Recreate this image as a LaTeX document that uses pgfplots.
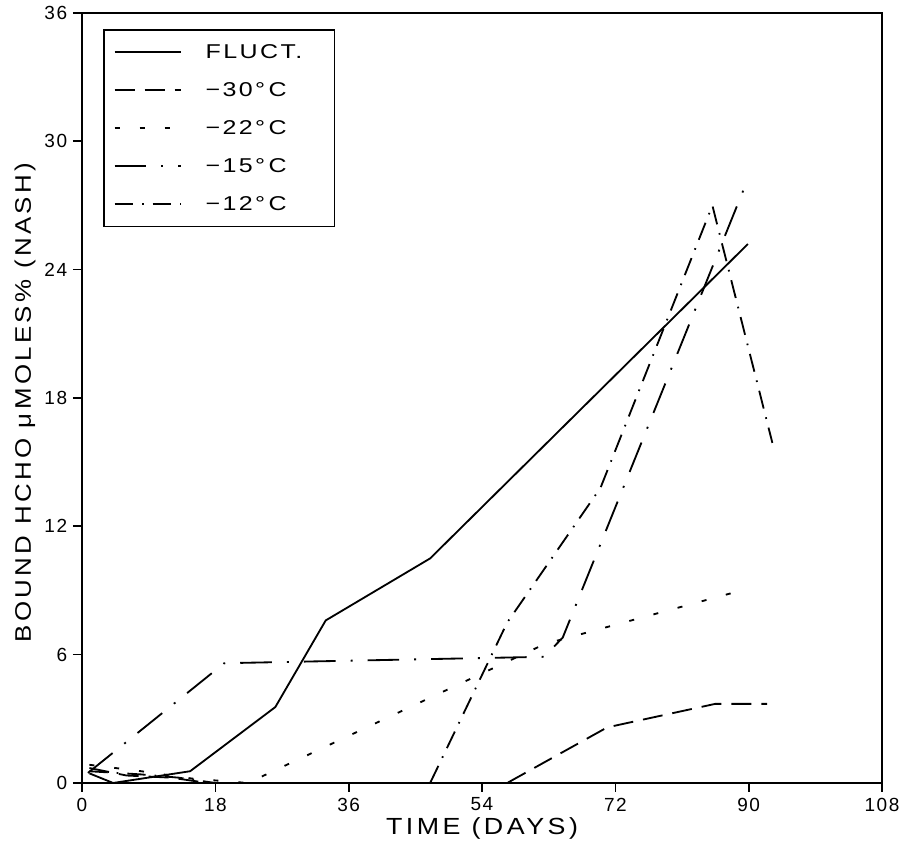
\documentclass[border=0pt]{standalone}
\usepackage{fontspec}
\setmainfont{Liberation Sans}
\newfontfamily\tickf{Liberation Sans}[LetterSpace=8]
\newfontfamily\legf{Liberation Sans}[FakeStretch=1.25,LetterSpace=12]
\newfontfamily\labf{Liberation Sans}[FakeStretch=1.15,LetterSpace=15]
\usepackage{pgfplots}
\pgfplotsset{compat=1.18}
\begin{document}
\begin{tikzpicture}
\begin{axis}[name=ax, scale only axis, width=480pt, height=462pt,
 xmin=0,xmax=108,ymin=0,ymax=36,
 xtick={0,18,...,108}, ytick={0,6,...,36},
 xtick pos=bottom, ytick pos=left, tick align=outside,
 major tick length=5.4pt,
 axis line style={line width=1.1pt},
 tick style={black, line width=1pt},
 /pgf/number format/assume math mode=true,
 ticklabel style={font=\tickf\fontsize{11.4}{13}\selectfont},
 xlabel={TIME (DAYS)}, ylabel={BOUND HCHO μMOLES\% (NASH)},
 xlabel style={font=\labf\fontsize{14}{16}\selectfont, at={(axis description cs:0.5,-0.0597)}, anchor=center},
 ylabel style={font=\labf\fontsize{13.5}{16}\selectfont, at={(axis description cs:-0.0713,0.494)}, anchor=center},
 legend style={at={(axis description cs:0.02625,0.979)}, anchor=north west, draw=black, line width=1pt,
   inner xsep=6pt, inner ysep=2pt, row sep=0pt, font=\legf\fontsize{12}{14}\selectfont,
   cells={anchor=west},
   nodes={minimum height=22.8pt, inner ysep=0pt, inner xsep=0pt, text width=71.4pt}},
 legend image code/.code={\draw[#1] (0pt,0pt) -- (40pt,0pt);},
 /tikz/every odd column/.append style={column sep=14pt},
]
\addplot[black, line width=1.1pt, solid] coordinates {(1,0.45)(4.2,0)(14.6,0.55)(26.1,3.55)(32.9,7.6)(47,10.5)(89.9,25.2)};
\addlegendentry{FLUCT.}
\addplot[black, line width=1.1pt, dash pattern=on 12pt off 6pt] coordinates {(1,0.7)(6,0.35)(12,0.25)(17,0)(57.4,0)(70.9,2.6)(85.5,3.7)(92.5,3.7)};
\addlegendentry{−30°\,C}
\addplot[black, line width=1.1pt, dash pattern=on 3pt off 12pt] coordinates {(1,0.85)(8,0.55)(15,0.2)(22.4,0)(62.5,6.5)(89,9.0)};
\addlegendentry{−22°\,C}
\addplot[black, line width=1.1pt, dash pattern=on 19pt off 9pt on 1.2pt off 9pt] coordinates {(0.8,0.47)(19.2,5.6)(62.4,5.9)(64.9,6.8)(89.5,27.9)};
\addlegendentry{−15°\,C}
\addplot[black, line width=1.1pt, dash pattern=on 11pt off 5.4pt on 1pt off 5.4pt] coordinates {(1,0.55)(8,0.4)(13,0.25)(18,0)(47,0)(57.4,7.5)(70,13.8)(85.1,27.0)(93.2,15.9)};
\addlegendentry{−12°\,C}
\end{axis}
\pgfresetboundingbox
\path ([shift={(-49.2pt,-37.2pt)}]ax.south west) rectangle ([shift={(17.4pt,7.8pt)}]ax.north east);
\end{tikzpicture}
\end{document}
